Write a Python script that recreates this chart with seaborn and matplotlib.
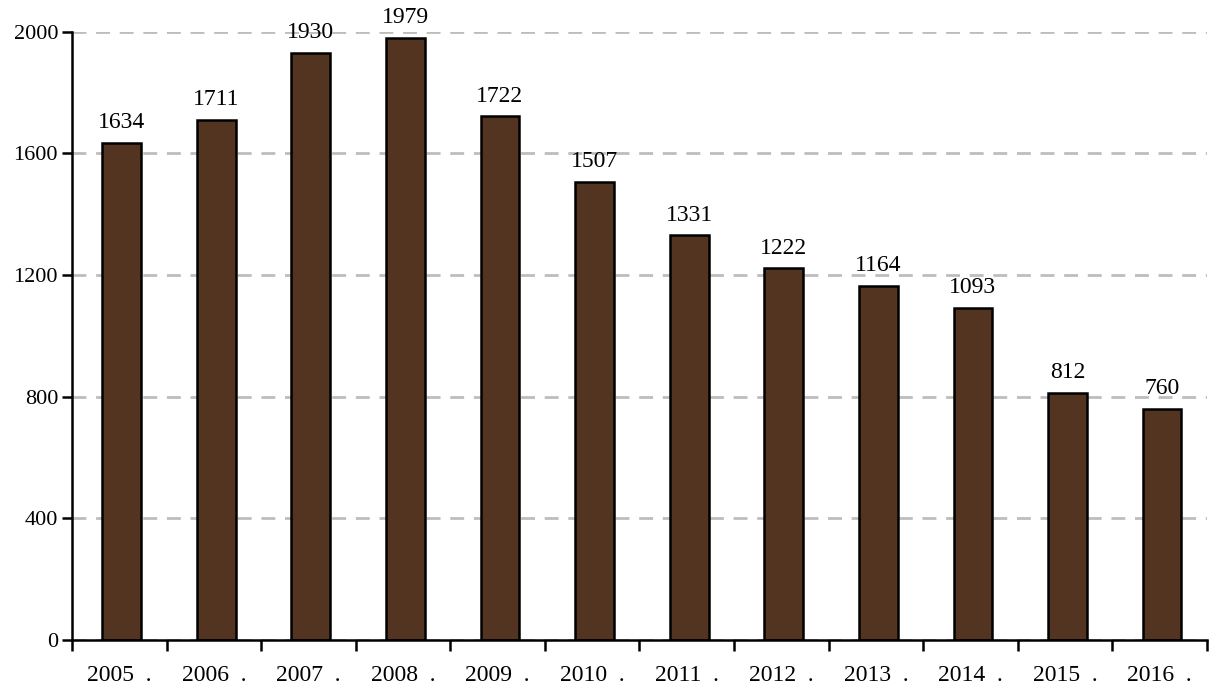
import matplotlib
matplotlib.use("Agg")
import matplotlib.pyplot as plt
import seaborn as sns
import pandas as pd
import numpy as np

years = ["2005", "2006", "2007", "2008", "2009", "2010",
         "2011", "2012", "2013", "2014", "2015", "2016"]
counts = [1634, 1711, 1930, 1979, 1722, 1507, 1331, 1222, 1164, 1093, 812, 760]
tick_labels = [y + "  ." for y in years]

sns.set_style("white")
plt.rcParams['font.family'] = ['Liberation Serif', 'DejaVu Serif']
plt.rcParams['text.color'] = 'black'
plt.rcParams['xtick.color'] = 'black'
plt.rcParams['ytick.color'] = 'black'

df = pd.DataFrame({"year": years, "count": counts})

fig = plt.figure(figsize=(12.16, 6.86), dpi=100)
ax = fig.add_axes([0.0592, 0.067, 0.9334, 0.8867])

sns.barplot(data=df, x="year", y="count", color="#523420", width=0.41,
            edgecolor="black", linewidth=1.8, saturation=1, ax=ax)

# nudge bars a touch right like the original
for patch in ax.patches:
    patch.set_x(patch.get_x() + 0.025)

# value labels
for patch, v in zip(ax.patches, counts):
    ax.annotate(str(v), (patch.get_x() + patch.get_width() / 2, patch.get_height()),
                xytext=(0, 7), textcoords="offset points", ha="center", va="bottom",
                fontsize=17, annotation_clip=False)

ax.set_ylim(0, 2000)
ax.set_xlim(-0.5, len(years) - 0.5)
ax.set_yticks(range(0, 2001, 400))
ax.yaxis.grid(True, color="#bdbdbd", linestyle=(0, (5, 3.5)), linewidth=2)
ax.set_axisbelow(True)

# ticks at category boundaries, labels in the middle
ax.set_xticks(np.arange(-0.5, len(years), 1.0))
ax.set_xticklabels([])
ax.set_xticks(np.arange(len(years)), minor=True)
ax.set_xticklabels(tick_labels, minor=True, fontsize=17)
ax.tick_params(axis="x", which="major", direction="out", length=8, width=1.8, bottom=True)
ax.tick_params(axis="x", which="minor", length=0, pad=18)
ax.tick_params(axis="y", direction="out", length=7, width=1.8, left=True, labelsize=16, pad=3)

ax.set_xlabel("")
ax.set_ylabel("")
sns.despine(ax=ax)
for s in ["left", "bottom"]:
    ax.spines[s].set_linewidth(1.8)
    ax.spines[s].set_color("black")

fig.savefig("out.png", dpi=100)
